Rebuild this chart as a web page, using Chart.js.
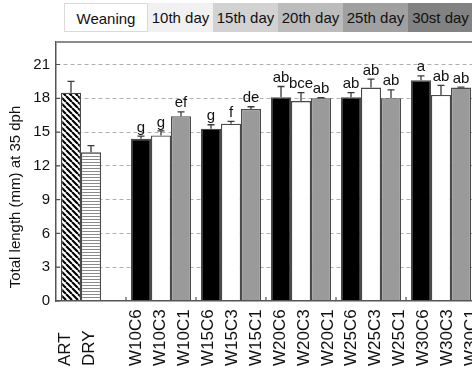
<!DOCTYPE html>
<html>
<head>
<meta charset="utf-8">
<script src="https://cdn.jsdelivr.net/npm/chart.js@4/dist/chart.umd.min.js"></script>
<style>
  html, body { margin: 0; padding: 0; width: 472px; height: 373px; overflow: hidden; background: #fff; }
  #wrap { position: relative; width: 480px; height: 373px; }
  canvas { position: absolute; left: 0; top: 0; }
  #stages { position: absolute; left: 64px; top: 3px; height: 29px; display: flex;
            font: 15px "Liberation Sans", Arial, sans-serif; color: #111; white-space: nowrap; }
  #stages div { height: 29px; line-height: 29px; text-align: center; box-sizing: border-box; flex: none; }
</style>
</head>
<body>
<div id="wrap">
  <canvas id="chart" width="480" height="373"></canvas>
  <div id="stages"></div>
</div>
<script>
// Treatment groups (one category per group of bars)
const groups = ['ART/DRY', 'W10', 'W15', 'W20', 'W25', 'W30'];

// First bar of each group (ART control, then C6 treatments)
const c6Names = ['ART', 'W10C6', 'W15C6', 'W20C6', 'W25C6', 'W30C6'];
const c6Mean  = [18.5, 14.4, 15.3, 18.1, 18.1, 19.6];
const c6Sd    = [1.0, 0.25, 0.35, 0.95, 0.4, 0.4];
const c6Sig   = ['', 'g', 'g', 'ab', 'ab', 'a'];

// Second bar of each group (DRY control, then C3 treatments)
const c3Names = ['DRY', 'W10C3', 'W15C3', 'W20C3', 'W25C3', 'W30C3'];
const c3Mean  = [13.2, 14.7, 15.75, 17.75, 18.95, 18.3];
const c3Sd    = [0.6, 0.4, 0.2, 0.75, 0.75, 0.85];
const c3Sig   = ['', 'g', 'f', 'bce', 'ab', 'ab'];

// Third bar of each group (C1 treatments; none for the controls)
const c1Names = ['', 'W10C1', 'W15C1', 'W20C1', 'W25C1', 'W30C1'];
const c1Mean  = [null, 16.4, 17.05, 18.0, 18.0, 18.95];
const c1Sd    = [null, 0.4, 0.2, 0.05, 0.75, 0.05];
const c1Sig   = ['', 'ef', 'de', 'ab', 'ab', 'ab'];

// Weaning-stage strip above the plot
const stageNames  = ['Weaning', '10th day', '15th day', '20th day', '25th day', '30st day'];
const stageFills  = ['#ffffff', '#f1f1f1', '#d2d2d2', '#bcbcbc', '#a0a0a0', '#828282'];
const stageWidths = [84, 65, 65, 65, 65, 65];

const yTitle = 'Total length (mm) at 35 dph';
const FONT = '"Liberation Sans", Arial, sans-serif';

// Bottom label row: controls, a blank slot, then every treatment in order
const bottomLabels = [c6Names[0], c3Names[0], ''];
for (let g = 1; g < groups.length; g++) bottomLabels.push(c6Names[g], c3Names[g], c1Names[g]);

// Build the strip
const strip = document.getElementById('stages');
stageNames.forEach((s, i) => {
  const d = document.createElement('div');
  d.textContent = s;
  d.style.width = stageWidths[i] + 'px';
  d.style.background = stageFills[i];
  if (i === 0) d.style.border = '1px solid #dadada';
  strip.appendChild(d);
});

// Fill patterns for the two control bars
function makePattern(size, paint) {
  const c = document.createElement('canvas');
  c.width = size; c.height = size;
  const g = c.getContext('2d');
  g.fillStyle = '#fff';
  g.fillRect(0, 0, size, size);
  paint(g, size);
  return document.getElementById('chart').getContext('2d').createPattern(c, 'repeat');
}
const diagFill = makePattern(6, (g, s) => {
  g.strokeStyle = '#000';
  g.lineWidth = 2.1;
  g.beginPath();
  for (const o of [-s, 0, s]) { g.moveTo(o, 0); g.lineTo(o + s, s); }
  g.stroke();
});
const lineFill = makePattern(3, (g, s) => {
  g.fillStyle = '#8a8a8a';
  g.fillRect(0, 0, s, 1);
});

const barBase = {
  borderColor: '#4a4a4a',
  borderWidth: 1.3,
  categoryPercentage: 60 / 70,
  barPercentage: 1
};

// Error whiskers, significance letters, frame ticks and labels
const decorations = {
  id: 'decorations',
  afterDatasetsDraw(chart) {
    const ctx = chart.ctx;
    const y = chart.scales.y;
    ctx.save();
    chart.data.datasets.forEach((ds, d) => {
      const meta = chart.getDatasetMeta(d);
      meta.data.forEach((bar, i) => {
        const m = ds.data[i];
        if (m == null) return;
        const top = y.getPixelForValue(m + ds.sd[i]);
        ctx.strokeStyle = '#3a3a3a';
        ctx.lineWidth = 1.3;
        ctx.beginPath();
        ctx.moveTo(bar.x, bar.y);
        ctx.lineTo(bar.x, top);
        ctx.moveTo(bar.x - 3.5, top);
        ctx.lineTo(bar.x + 3.5, top);
        ctx.stroke();
        if (ds.sig[i]) {
          ctx.fillStyle = '#111';
          ctx.font = '15px ' + FONT;
          ctx.textAlign = 'center';
          ctx.textBaseline = 'bottom';
          ctx.fillText(ds.sig[i], bar.x, top - 1);
        }
      });
    });
    ctx.restore();
  },
  afterDraw(chart) {
    const ctx = chart.ctx;
    const a = chart.chartArea;
    const x = chart.scales.x;
    const y = chart.scales.y;
    ctx.save();
    // top frame line
    ctx.strokeStyle = '#8a8a8a';
    ctx.lineWidth = 2;
    ctx.beginPath();
    ctx.moveTo(a.left, a.top);
    ctx.lineTo(a.right + 2, a.top);
    ctx.stroke();
    // inward ticks on the value axis
    ctx.strokeStyle = '#555';
    ctx.lineWidth = 1.2;
    ctx.beginPath();
    y.ticks.forEach(t => {
      const py = y.getPixelForValue(t.value);
      ctx.moveTo(a.left, py);
      ctx.lineTo(a.left + 4, py);
    });
    // inward ticks between groups
    for (let i = 0; i < groups.length - 1; i++) {
      const px = (x.getPixelForValue(i) + x.getPixelForValue(i + 1)) / 2;
      ctx.moveTo(px, a.bottom);
      ctx.lineTo(px, a.bottom - 4);
    }
    ctx.stroke();
    // rotated bar labels along the bottom
    ctx.fillStyle = '#111';
    ctx.font = '17px ' + FONT;
    ctx.textAlign = 'left';
    ctx.textBaseline = 'middle';
    const step = 23.9;
    bottomLabels.forEach((lab, i) => {
      if (!lab) return;
      const px = a.left - 3 + (i + 0.5) * step;
      ctx.save();
      ctx.translate(px, a.bottom + 65);
      ctx.rotate(-Math.PI / 2);
      ctx.fillText(lab, 0, 0);
      ctx.restore();
    });
    // value-axis title
    ctx.font = '15px ' + FONT;
    ctx.textAlign = 'center';
    ctx.save();
    ctx.translate(16, a.bottom - 104);
    ctx.rotate(-Math.PI / 2);
    ctx.fillText(yTitle, 0, 0);
    ctx.restore();
    ctx.restore();
  }
};

new Chart(document.getElementById('chart'), {
  type: 'bar',
  data: {
    labels: groups,
    datasets: [
      Object.assign({}, barBase, {
        label: 'C6', data: c6Mean, sd: c6Sd, sig: c6Sig,
        backgroundColor: c => c.dataIndex === 0 ? diagFill : '#000000'
      }),
      Object.assign({}, barBase, {
        label: 'C3', data: c3Mean, sd: c3Sd, sig: c3Sig,
        backgroundColor: c => c.dataIndex === 0 ? lineFill : '#ffffff'
      }),
      Object.assign({}, barBase, {
        label: 'C1', data: c1Mean, sd: c1Sd, sig: c1Sig,
        backgroundColor: '#9a9a9a'
      })
    ]
  },
  options: {
    responsive: false,
    animation: false,
    devicePixelRatio: 1,
    layout: { padding: { top: 42, bottom: 72, left: 0, right: 4 } },
    plugins: { legend: { display: false }, tooltip: { enabled: false } },
    scales: {
      x: {
        grid: { display: false, drawTicks: false },
        ticks: { display: false },
        border: { display: true, color: '#555', width: 1.5, z: 1 },
        afterFit: s => { s.height = 0; }
      },
      y: {
        min: 0,
        max: 23,
        grid: {
          drawTicks: false,
          color: c => c.tick && c.tick.value === 0 ? 'rgba(0,0,0,0)' : '#b0b0b0',
          lineWidth: 1
        },
        border: { display: true, color: '#555', width: 1.5, dash: [4, 3], z: 1 },
        ticks: {
          stepSize: 3,
          includeBounds: false,
          padding: 6,
          color: '#111',
          font: { family: FONT, size: 15 }
        },
        afterFit: s => { s.width = 56; }
      }
    }
  },
  plugins: [decorations]
});
</script>
</body>
</html>
